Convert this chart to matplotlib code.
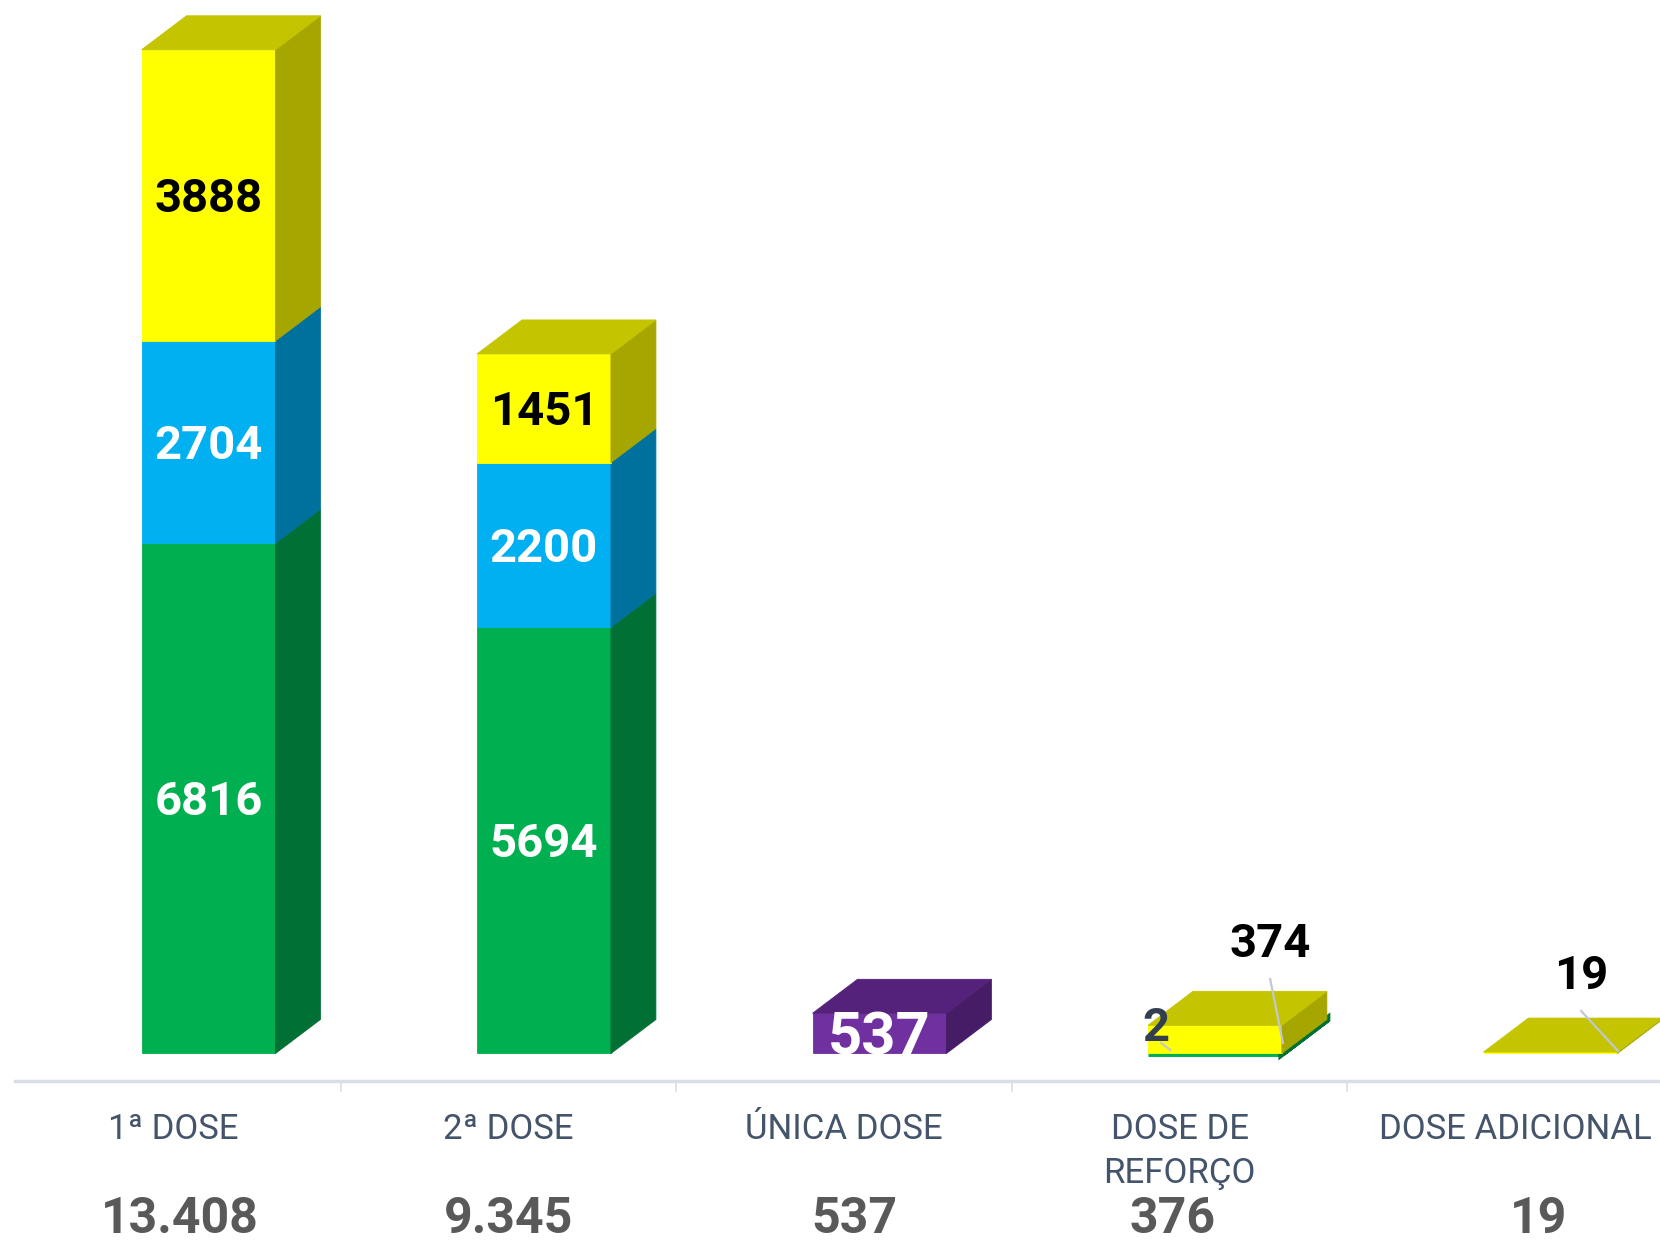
import matplotlib
matplotlib.use("Agg")
import matplotlib.pyplot as plt
from matplotlib.patches import Polygon
from matplotlib import font_manager

# ---------------- data ----------------
categories = ["1ª DOSE", "2ª DOSE", "ÚNICA DOSE", "DOSE DE\nREFORÇO", "DOSE ADICIONAL"]
green = [6816, 5694, 0, 2, 0]
blue = [2704, 2200, 0, 0, 0]
yellow = [3888, 1451, 0, 374, 19]
purple = [0, 0, 537, 0, 0]

series = [green, blue, yellow, purple]
front_colors = ["#00B050", "#00B0F0", "#FFFF00", "#7030A0"]
side_colors = ["#007034", "#00709C", "#A6A600", "#461C66"]
top_colors = ["#00C05A", "#33C4F5", "#C4C400", "#54227A"]
label_colors = ["white", "white", "black", "white"]
label_sizes = [34, 34, 34, 43]

totals = [sum(s[i] for s in series) for i in range(len(categories))]
total_labels = [f"{t:,}".replace(",", ".") for t in totals]

# ---------------- fonts ----------------
names = {f.name for f in font_manager.fontManager.ttflist}
FONT = "Liberation Sans Narrow" if "Liberation Sans Narrow" in names else "Roboto"

# ---------------- figure ----------------
fig = plt.figure(figsize=(16.6, 12.47), dpi=100)
ax = fig.add_axes([0, 0, 1, 1])
ax.set_xlim(-0.516, 4.432)
ax.set_ylim(-2585, 14073)
ax.axis("off")

UPP = (14073 + 2585) / 1247.0  # data units per pixel (vertical)
FL, FR = -0.094, 0.305  # front face extents relative to slot centre
DX, DY = 0.134, 454     # depth offsets


def draw_box(i, y0, y1, k, top):
    xl, xr = i + FL, i + FR
    h_px = (y1 - y0) / UPP
    lw = 5 if h_px < 1 else 0.6
    fc, sc, tc = front_colors[k], side_colors[k], top_colors[k]
    ax.add_patch(Polygon([(xl, y0), (xr, y0), (xr, y1), (xl, y1)],
                         closed=True, facecolor=fc, edgecolor=fc, lw=lw,
                         joinstyle="miter", zorder=2))
    ax.add_patch(Polygon([(xr, y0), (xr + DX, y0 + DY), (xr + DX, y1 + DY), (xr, y1)],
                         closed=True, facecolor=sc, edgecolor=sc, lw=lw,
                         joinstyle="miter", zorder=2))
    if top:
        ax.add_patch(Polygon([(xl, y1), (xr, y1), (xr + DX, y1 + DY), (xl + DX, y1 + DY)],
                             closed=True, facecolor=tc, edgecolor=tc, lw=0.6, zorder=3))


def label(x, ymid, text, color, size):
    cap = size * UPP  # cap height ~ size px at 100 dpi
    ax.text(x, ymid - cap / 2, text, ha="center", va="baseline", color=color,
            fontsize=size, fontweight="bold", family=[FONT, "DejaVu Sans"], zorder=5)


# outside labels for thin segments: (category, series) -> (text x, text y mid, leader)
outside = {
    (3, 0): (2.930, 394, [(2.945, 140), (2.972, 47)], "#333F50"),
    (3, 2): (3.27, 1516, [(3.27, 995), (3.308, 140)], "black"),
    (4, 2): (4.197, 1089, [(4.197, 568), (4.307, 33)], "black"),
}

for i in range(len(categories)):
    base = 0
    nonzero = [k for k in range(len(series)) if series[k][i] > 0]
    for k in nonzero:
        v = series[k][i]
        draw_box(i, base, base + v, k, top=(k == nonzero[-1]))
        cx = i + (FL + FR) / 2
        if (i, k) in outside:
            tx, ty, leader, col = outside[(i, k)]
            label(tx, ty, str(v), col, 34)
            ax.plot([p[0] for p in leader], [p[1] for p in leader],
                    color="#BFC8D4", lw=1.6, zorder=4)
        else:
            label(cx, base + v / 2, str(v), label_colors[k], label_sizes[k])
        base += v

# axis line and separators
ax.plot([-0.471, 4.432], [-367, -367], color="#D9DEE6", lw=2.5, zorder=1)
for b in [0.5, 1.5, 2.5, 3.5]:
    ax.plot([b, b], [-367, -500], color="#D9DEE6", lw=1.2, zorder=1)

# category labels
for i, c in enumerate(categories):
    ax.text(i, -800, c, ha="center", va="top", color="#44546A", fontsize=25,
            linespacing=1.4, family=[FONT, "DejaVu Sans"])

# totals
total_x = [0.02, 0.0, 0.03, -0.02, 0.07]
for i, t in enumerate(total_labels):
    ax.text(i + total_x[i], -2400, t, ha="center", va="baseline", color="#595959",
            fontsize=36, fontweight="bold", family=[FONT, "DejaVu Sans"])

fig.savefig("out.png", dpi=100)
